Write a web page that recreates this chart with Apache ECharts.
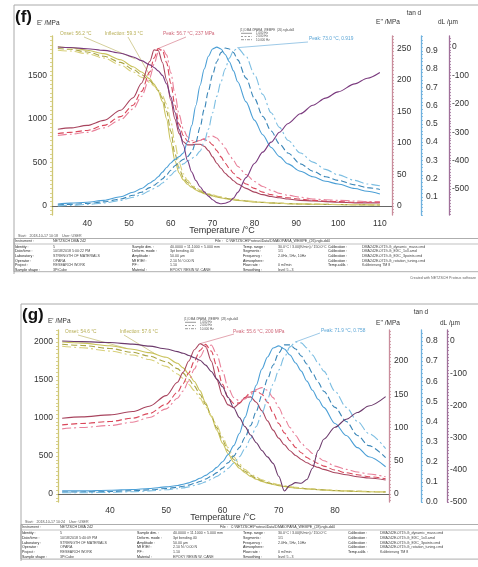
<!DOCTYPE html>
<html><head><meta charset="utf-8">
<script src="https://cdn.jsdelivr.net/npm/echarts@6/dist/echarts.min.js"></script>
<style>html,body{margin:0;padding:0;background:#fff}#c{width:478px;height:567px}</style>
</head><body><div id="c"></div>
<script>
// ---------- chart (f) data ----------
const fTemp = [33,36,40,44,48,51,53,55,56,57,58,59,60,61,62,63,64,65,66,67,68,69,70,71,72,73,74,75,76,78,80,82,84,86,88,91,94,97,100,104,107,110];
const fE1a = [1830,1820,1790,1750,1680,1600,1540,1460,1400,1320,1200,1000,740,520,380,300,250,215,185,162,143,128,115,104,94,85,78,71,65,55,47,40,35,31,27,23,20,18,16,14,13,12];
const fE1b = [1810,1800,1770,1720,1650,1570,1510,1440,1390,1330,1240,1090,860,600,430,330,270,230,197,172,152,136,122,110,99,90,82,75,69,58,49,42,36,32,28,24,21,19,17,15,14,13];
const fE1c = [1790,1780,1750,1700,1620,1540,1480,1420,1380,1330,1270,1170,980,720,500,370,295,245,210,183,161,144,129,116,105,95,87,79,73,61,52,44,38,33,29,25,22,20,18,16,15,14];
const fE2a = [122,124,128,136,152,172,195,230,248,247,228,200,168,138,115,102,97,97,98,98,95,88,78,68,60,52,46,40,35,28,22,18,15,13,11,9,8,7,6,5,5,5];
const fE2b = [115,117,120,128,142,160,182,213,235,250,247,228,195,160,130,112,103,100,102,105,106,103,97,88,78,68,60,52,45,35,28,22,18,15,13,11,9,8,7,6,6,6];
const fE2c = [112,114,117,124,137,154,174,204,225,244,250,240,212,178,145,122,110,104,103,104,107,110,111,108,101,92,82,72,63,50,39,31,25,20,17,14,11,10,9,8,7,7];
const fTanA = [0.06,0.065,0.07,0.08,0.10,0.125,0.145,0.175,0.19,0.21,0.235,0.26,0.285,0.305,0.32,0.34,0.40,0.49,0.60,0.71,0.80,0.87,0.91,0.92,0.91,0.88,0.84,0.79,0.73,0.62,0.52,0.44,0.37,0.32,0.28,0.24,0.21,0.185,0.17,0.145,0.13,0.115];
const fTanB = [0.055,0.058,0.063,0.072,0.088,0.108,0.125,0.15,0.163,0.178,0.198,0.22,0.245,0.27,0.29,0.305,0.32,0.345,0.40,0.48,0.58,0.68,0.77,0.84,0.89,0.915,0.91,0.89,0.85,0.75,0.64,0.54,0.46,0.39,0.34,0.28,0.24,0.21,0.19,0.165,0.15,0.14];
const fTanC = [0.05,0.053,0.058,0.066,0.08,0.097,0.112,0.133,0.145,0.158,0.175,0.195,0.218,0.24,0.262,0.28,0.295,0.31,0.325,0.35,0.40,0.47,0.56,0.65,0.73,0.80,0.86,0.90,0.915,0.87,0.77,0.66,0.56,0.48,0.41,0.34,0.29,0.25,0.22,0.19,0.17,0.16];
const fDL = [0,-2,-6,-12,-22,-35,-48,-63,-72,-84,-100,-130,-175,-230,-290,-345,-400,-440,-470,-492,-510,-525,-538,-548,-552,-550,-545,-532,-512,-460,-410,-370,-335,-300,-270,-235,-205,-180,-158,-130,-110,-90];
const fXTicks = [40,50,60,70,80,90,100,110];
const fE1Ticks = [0,500,1000,1500];
const fE2Ticks = [0,50,100,150,200,250];
const fTanTicks = [0.1,0.2,0.3,0.4,0.5,0.6,0.7,0.8,0.9];
const fDLTicks = [0,-100,-200,-300,-400,-500];

// ---------- chart (g) data ----------
const gTemp = [31.5,35,40,44,47,50,52,53,54,55,56,57,58,59,60,61,62,63,64,65,66,67,68,69,70,71,72,73,74,75,76,77,78,80,82,84,86,89];
const gE1a = [2000,1985,1950,1905,1860,1800,1720,1660,1580,1480,1360,1200,1020,840,670,530,420,340,280,232,195,166,143,125,110,98,88,80,73,67,61,56,52,45,39,34,30,26];
const gE1b = [1970,1955,1915,1865,1815,1740,1650,1590,1510,1420,1310,1180,1030,870,710,570,455,368,300,248,208,177,152,132,116,103,92,83,76,70,64,59,54,47,41,36,32,28];
const gE1c = [1945,1925,1880,1830,1770,1680,1580,1520,1440,1360,1260,1150,1030,900,750,610,490,395,322,265,222,188,161,140,123,109,97,88,80,73,67,61,56,49,43,38,34,30];
const gE2a = [114,116,119,124,132,148,168,183,200,217,226,222,200,172,148,134,130,136,145,146,138,125,110,96,84,74,65,58,52,47,43,40,37,32,29,26,24,21];
const gE2b = [104,106,109,114,121,135,153,166,182,200,216,225,215,192,165,145,136,137,145,153,155,150,138,122,106,92,80,70,62,55,50,46,42,36,32,29,26,23];
const gE2c = [98,100,103,108,115,128,144,155,170,188,206,220,224,210,185,160,145,140,143,150,157,160,156,145,130,114,100,88,77,68,61,55,50,42,37,33,30,26];
const gTanA = [0.055,0.055,0.058,0.062,0.067,0.075,0.082,0.088,0.095,0.105,0.118,0.132,0.15,0.172,0.2,0.235,0.28,0.34,0.42,0.50,0.58,0.66,0.72,0.765,0.775,0.76,0.73,0.69,0.65,0.60,0.555,0.51,0.47,0.39,0.33,0.27,0.225,0.175];
const gTanB = [0.05,0.05,0.052,0.056,0.06,0.067,0.073,0.078,0.084,0.092,0.102,0.114,0.128,0.146,0.168,0.195,0.228,0.27,0.32,0.38,0.45,0.53,0.61,0.68,0.74,0.78,0.78,0.76,0.725,0.685,0.64,0.595,0.55,0.47,0.40,0.33,0.28,0.22];
const gTanC = [0.046,0.046,0.048,0.051,0.055,0.061,0.066,0.07,0.075,0.082,0.09,0.1,0.112,0.127,0.145,0.167,0.193,0.225,0.265,0.315,0.375,0.44,0.51,0.585,0.655,0.72,0.77,0.795,0.79,0.765,0.73,0.69,0.65,0.55,0.47,0.40,0.34,0.265];
const gDL = [0,-2,-5,-10,-16,-25,-33,-38,-45,-52,-60,-75,-95,-118,-142,-175,-208,-238,-266,-292,-316,-340,-360,-380,-420,-466,-448,-440,-442,-430,-395,-340,-305,-268,-243,-222,-202,-173];
const gXTicks = [40,50,60,70,80];
const gE1Ticks = [0,500,1000,1500,2000];
const gE2Ticks = [0,50,100,150,200];
const gTanTicks = [0,0.1,0.2,0.3,0.4,0.5,0.6,0.7,0.8];
const gDLTicks = [0,-100,-200,-300,-400,-500];

// ---------- build ----------
const FONT = 'Liberation Sans';
const pairs = (t, v) => t.map((x, i) => [x, v[i]]);
const steps = (a, b, s) => { const r = []; for (let v = a; v <= b + 1e-9; v += s) r.push(+v.toFixed(4)); return r; };
const fmtInt = v => String(Math.round(v));
const fmt1 = v => (+v).toFixed(1);

function yax(grid, pos, offset, min, max, color, labels, tickStep, fmt, margin) {
  return {
    type: 'value', gridIndex: grid, position: pos, offset: offset, min: min, max: max,
    axisLine: { show: true, lineStyle: { color: color, width: 1.3 } },
    axisTick: { show: true, length: 2, customValues: steps(Math.ceil(min / tickStep) * tickStep, max, tickStep), lineStyle: { color: color, width: 0.8 } },
    axisLabel: { customValues: labels, fontSize: 8.5, fontFamily: FONT, color: '#333', margin: margin, formatter: fmt || fmtInt },
    splitLine: { show: false }
  };
}
const xax = (grid, min, max, labels) => ({
  type: 'value', gridIndex: grid, min: min, max: max,
  axisLine: { show: true, lineStyle: { color: '#666', width: 1 } },
  axisTick: { show: false },
  axisLabel: { customValues: labels, fontSize: 8.5, fontFamily: FONT, color: '#333', margin: 4, formatter: fmtInt },
  splitLine: { show: false }
});

const C = {
  e1: ['#c9c25a', '#aaa544', '#d8d07a'],
  e2: ['#a8445e', '#d9475a', '#e9809a'],
  tan: ['#4b9fd6', '#3a86b8', '#7cbee2'],
  dl: '#7a3a7e'
};
const DASH = ['solid', [6, 3], [9, 3, 2, 3]];

function line(xi, yi, t, v, color, dash) {
  return { type: 'line', xAxisIndex: xi, yAxisIndex: yi, data: pairs(t, v), showSymbol: false, symbol: 'none',
    smooth: 0.3, smoothMonotone: 'x', lineStyle: { color: color, width: 1.1, type: dash }, silent: true, animation: false };
}

const series = [];
[fE1a, fE1b, fE1c].forEach((v, i) => series.push(line(0, 0, fTemp, v, C.e1[i], DASH[i])));
[fE2a, fE2b, fE2c].forEach((v, i) => series.push(line(0, 1, fTemp, v, C.e2[i], DASH[i])));
[fTanA, fTanB, fTanC].forEach((v, i) => series.push(line(0, 2, fTemp, v, C.tan[i], DASH[i])));
series.push(line(0, 3, fTemp, fDL, C.dl, 'solid'));
[gE1a, gE1b, gE1c].forEach((v, i) => series.push(line(1, 4, gTemp, v, C.e1[i], DASH[i])));
[gE2a, gE2b, gE2c].forEach((v, i) => series.push(line(1, 5, gTemp, v, C.e2[i], DASH[i])));
[gTanA, gTanB, gTanC].forEach((v, i) => series.push(line(1, 6, gTemp, v, C.tan[i], DASH[i])));
series.push(line(1, 7, gTemp, gDL, '#6c3a6c', 'solid'));

const chart = echarts.init(document.getElementById('c'), null, { renderer: 'canvas' });
chart.setOption({
  animation: false,
  backgroundColor: '#fff',
  grid: [
    { left: 52, right: 86, top: 36, bottom: 352, show: false },
    { left: 58, right: 89, top: 330, bottom: 65, show: false }
  ],
  xAxis: [xax(0, 31.6, 112.9, fXTicks), xax(1, 30.76, 89.6, gXTicks)],
  yAxis: [
    yax(0, 'left', 0, -103, 1953, '#cfc774', fE1Ticks, 50, null, 5),
    yax(0, 'right', 0, -14.3, 270, '#c98d9c', fE2Ticks, 5, null, 5),
    yax(0, 'right', 29, 0, 0.981, '#6fb1de', fTanTicks, 0.02, fmt1, 5),
    yax(0, 'right', 57, -591.5, 38.7, '#a0709a', fDLTicks, 10, null, 3),
    yax(1, 'left', 0, -105, 2158, '#cfc774', gE1Ticks, 50, null, 5),
    yax(1, 'right', 0, -12, 246.6, '#c98d9c', gE2Ticks, 5, null, 5),
    yax(1, 'right', 32, 0, 0.854, '#6fb1de', gTanTicks, 0.02, fmt1, 5),
    yax(1, 'right', 58, -500, 34, '#a0709a', gDLTicks, 10, null, 3)
  ],
  series: series
});

// ---------- annotations / frame / tables ----------
const G = [];
const txt = (x, y, s, size, color, align) => G.push({ type: 'text', x: x, y: y, silent: true,
  style: { text: s, fontSize: size, fontFamily: FONT, fill: color || '#444', textAlign: align || 'left', textVerticalAlign: 'middle' } });
const ln = (x1, y1, x2, y2, color, w, dash) => G.push({ type: 'line', silent: true, shape: { x1, y1, x2, y2 }, style: { stroke: color, lineWidth: w || 0.7, lineDash: dash || null } });
const rect = (x, y, w, h, color) => G.push({ type: 'rect', silent: true, shape: { x, y, width: w, height: h }, style: { fill: 'none', stroke: color, lineWidth: 0.8 } });
const px = (xi, yi, p) => chart.convertToPixel({ xAxisIndex: xi, yAxisIndex: yi }, p);
const centered = (x, y, s, size, color) => txt(x, y, s, size, color || '#333', 'center');

// frames
ln(14, 5, 478, 5, '#aaa', 1); ln(14, 5, 14, 274, '#aaa', 1);
ln(21, 304, 478, 304, '#aaa', 1); ln(21, 304, 21, 561, '#aaa', 1);

// titles & axis names
G.push({ type: 'text', x: 15, y: 17, silent: true, style: { text: '(f)', font: 'bold 17px "Liberation Sans"', fill: '#111', textVerticalAlign: 'middle' } });
G.push({ type: 'text', x: 22, y: 315, silent: true, style: { text: '(g)', font: 'bold 17px "Liberation Sans"', fill: '#111', textVerticalAlign: 'middle' } });
txt(37, 23, "E' /MPa", 6.5, '#333');
txt(48, 321, "E' /MPa", 6.5, '#333');
centered(414, 13, 'tan d', 6.5); centered(388, 22, "E'' /MPa", 6.5); centered(448, 22, 'dL /µm', 6.5);
centered(421, 312, 'tan d', 6.5); centered(388, 323, "E'' /MPa", 6.5); centered(450, 323, 'dL /µm', 6.5);
centered(222, 231, 'Temperature /°C', 9);
centered(223, 518, 'Temperature /°C', 9);

// annotations (f)
const OL = '#b7ae55', RD = '#d0687a', BL = '#5aa5d6';
txt(60, 34, 'Onset: 56.2 °C', 4.8, OL); { const p = px(0, 0, [51.5, 1690]); ln(84, 37, p[0], p[1], OL, 0.6); }
txt(105, 34, 'Inflection: 59.3 °C', 4.8, OL); { const p = px(0, 0, [55, 1500]); ln(128, 37, p[0], p[1], OL, 0.6); }
txt(163, 34, 'Peak: 56.7 °C, 237 MPa', 4.8, RD); { const p = px(0, 1, [56.6, 249]); ln(186, 37, p[0], p[1], RD, 0.6); }
txt(309, 39, 'Peak: 73.0 °C, 0.919', 4.8, BL); { const p = px(0, 2, [75.9, 0.917]); ln(308, 42, p[0], p[1], BL, 0.6); }
// legend (f)
txt(240, 30, '(1) DMA OPARA_WEMPE_(26).ngb-dd4', 3, '#555');
ln(241, 33.3, 252, 33.3, '#555', 0.6); txt(256, 33.3, '1.000 Hz', 3, '#555');
ln(241, 36.5, 252, 36.5, '#555', 0.6, [2, 1.5]); txt(256, 36.5, '2.000 Hz', 3, '#555');
ln(241, 39.7, 252, 39.7, '#555', 0.6, [3, 1, 1, 1]); txt(256, 39.7, '10.000 Hz', 3, '#555');

// annotations (g)
txt(65, 332, 'Onset: 54.6 °C', 4.8, OL); { const p = px(1, 4, [43, 1915]); ln(78, 335, p[0], p[1], OL, 0.6); }
txt(120, 332, 'Inflection: 57.6 °C', 4.8, OL); { const p = px(1, 4, [48, 1845]); ln(124, 335, p[0], p[1], OL, 0.6); }
txt(233, 332, 'Peak: 55.6 °C, 200 MPa', 4.8, RD); { const p = px(1, 5, [56, 226]); ln(234, 334, p[0], p[1], RD, 0.6); }
txt(321, 331, 'Peak: 71.9 °C, 0.758', 4.8, BL); { const p = px(1, 6, [73, 0.795]); ln(320, 333, p[0], p[1], BL, 0.6); }
txt(184, 319, '(1) DMA OPARA_WEMPE_(28).ngb-dd4', 3, '#555');
ln(185, 322.3, 196, 322.3, '#555', 0.6); txt(200, 322.3, '1.000 Hz', 3, '#555');
ln(185, 325.5, 196, 325.5, '#555', 0.6, [2, 1.5]); txt(200, 325.5, '2.000 Hz', 3, '#555');
ln(185, 328.7, 196, 328.7, '#555', 0.6, [3, 1, 1, 1]); txt(200, 328.7, '10.000 Hz', 3, '#555');

// info tables
function table(x0, y0, rowH, cols, start, fileX, fileName, created, dateStr) {
  txt(x0 + 4, y0 - 5, start, 3.6, '#555');
  rect(x0, y0 - 2.5, 478 - x0 + 2, rowH * 7 + 1, '#999');
  ln(x0, y0 + 3, 478, y0 + 3, '#999', 0.6);
  txt(x0 + 1, y0, 'Instrument :', 3.6, '#333'); txt(cols[1], y0, 'NETZSCH DMA 242', 3.6, '#333');
  txt(fileX, y0, 'File :   ' + fileName, 3.6, '#333');
  const L = [
    ['Identity :', '5', 'Sample dim. :', '40.0000 × 11.1000 × 5.000 mm', 'Temp. range :', '30.0°C / 3.00(K/min) / 150.0°C', 'Calibration :', 'DMA242E-0719-G_dynamic_mass.cmd'],
    ['Date/time :', dateStr, 'Deform. mode :', '3pt bending 40', 'Segments :', '1/1', 'Calibration :', 'DMA242E-0719-G_EXC_1x3.amd'],
    ['Laboratory :', 'STRENGTH OF MATERIALS', 'Amplitude :', '50.00 µm', 'Frequency :', '2.0Hz, 5Hz, 10Hz', 'Calibration :', 'DMA242E-0719-G_EXC_3points.cmd'],
    ['Operator :', 'OPARA', 'Mf E\'/Ef :', '2.10 N / 0.00 N', 'Atmosphere :', '', 'Calibration :', 'DMA242E-0719-G_rotation_tuning.cmd'],
    ['Project :', 'RESEARCH WORK', 'PF :', '1.10', 'Flow rate :', '0 ml/min', 'Temp.calib. :', 'Kalibrierung TM 8'],
    ['Sample shape :', '3PtCube', 'Material :', 'EPOXY RESIN W. CANE', 'Smoothing :', 'level 5 - 3', '', '']
  ];
  L.forEach((r, i) => r.forEach((s, j) => { if (s) txt(cols[j], y0 + rowH * (i + 1.25), s, 3.6, j % 2 ? '#444' : '#222'); }));
  if (created) txt(476, y0 + rowH * 8, created, 3.6, '#666', 'right');
}
table(14, 241, 4.6, [15, 53, 132, 170, 243, 278, 328, 362], 'Start:   2018-10-17 10:18    User: USER', 215,
  'C:\\NETZSCH\\Proteus\\Data\\DMA\\OPARA_WEMPE_(26).ngb-dd4', 'Created with NETZSCH Proteus software', '10/18/2018 5:00:22 PM');
table(21, 527, 4.8, [22, 60, 137, 173, 243, 278, 348, 380], 'Start:   2018-10-17 10:24    User: USER', 220,
  'C:\\NETZSCH\\Proteus\\Data\\DMA\\OPARA_WEMPE_(28).ngb-dd4', null, '10/18/2018 5:40:09 PM');

chart.setOption({ graphic: { elements: G } });
</script>
</body></html>
